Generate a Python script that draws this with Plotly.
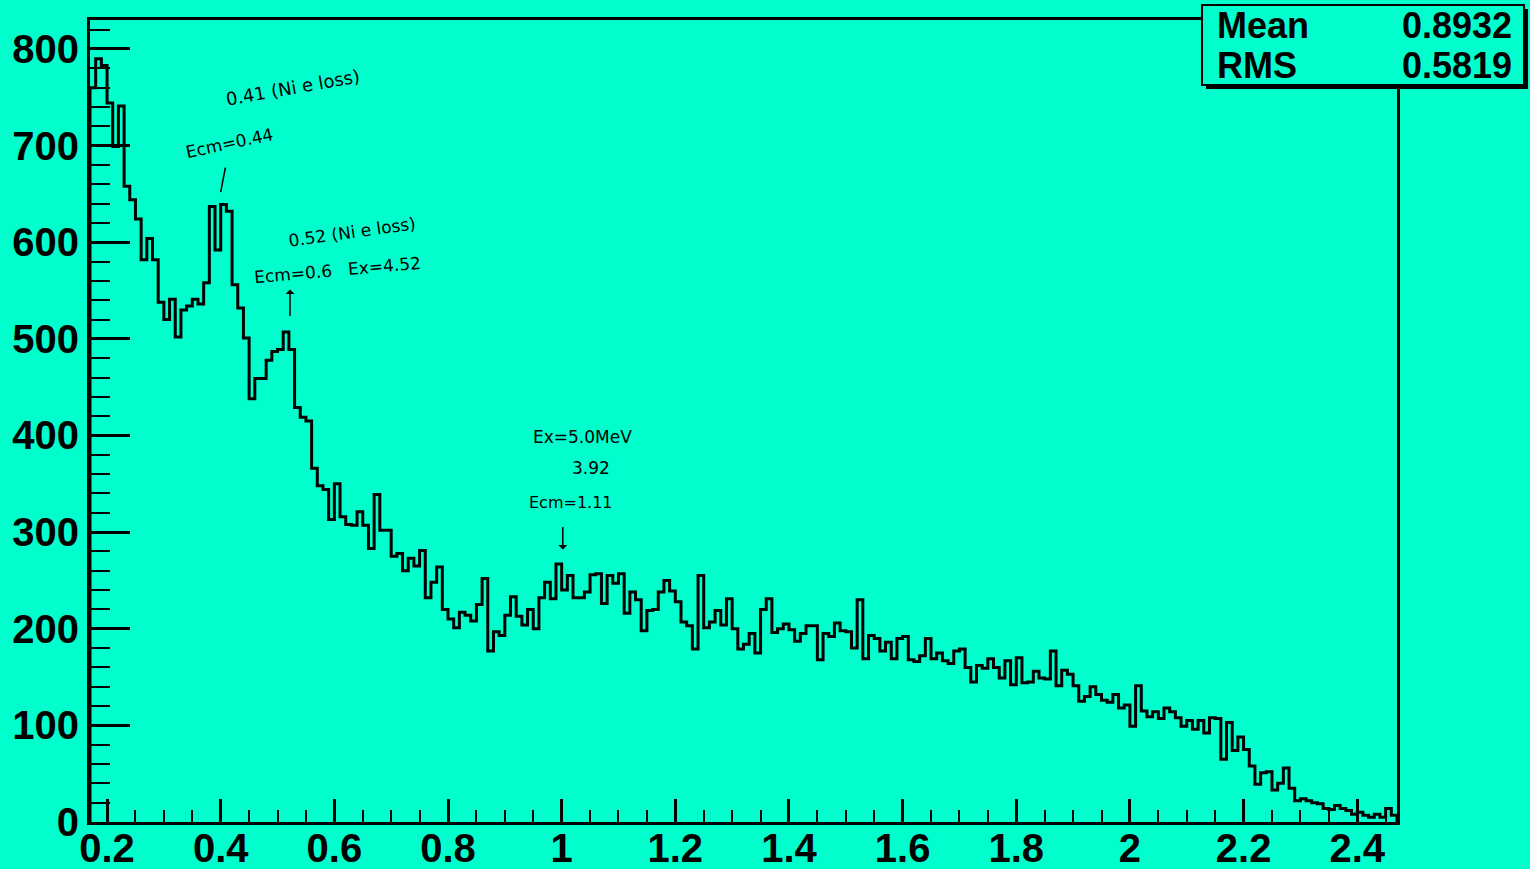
import plotly.graph_objects as go

# ---------------- data ----------------
bin_low = 0.17
bin_width = 0.01
counts = [
    760, 790, 783, 744, 699, 741, 658, 644, 624, 582,
    604, 582, 538, 520, 541, 502, 530, 534, 541, 536,
    558, 637, 592, 639, 632, 556, 532, 501, 438, 459,
    459, 478, 487, 489, 507, 489, 429, 419, 415, 366,
    348, 344, 313, 350, 316, 308, 307, 321, 307, 283,
    339, 302, 302, 275, 278, 260, 273, 265, 281, 232,
    248, 264, 220, 210, 201, 217, 214, 208, 225, 252,
    177, 197, 193, 214, 233, 213, 204, 220, 200, 232,
    248, 231, 267, 240, 255, 232, 232, 238, 256, 257,
    226, 255, 247, 257, 216, 238, 230, 198, 219, 220,
    238, 250, 239, 228, 207, 203, 179, 255, 201, 207,
    219, 204, 231, 200, 179, 184, 195, 175, 220, 231,
    196, 200, 205, 199, 187, 195, 203, 203, 168, 195,
    192, 206, 198, 197, 180, 230, 169, 193, 190, 177,
    186, 169, 190, 192, 168, 166, 172, 190, 169, 175,
    167, 164, 177, 179, 160, 145, 162, 159, 169, 160,
    149, 167, 142, 170, 144, 145, 156, 149, 148, 177,
    141, 157, 153, 141, 125, 130, 140, 132, 126, 124,
    132, 118, 121, 99, 141, 115, 109, 114, 107, 118,
    114, 108, 99, 105, 96, 105, 92, 108, 107, 65,
    103, 74, 88, 75, 58, 39, 51, 52, 33, 40,
    56, 35, 22, 24, 22, 20, 19, 14, 13, 17,
    14, 12, 8, 10, 7, 5, 8, 5, 14, 7,
]
stat_names = ["Mean", "RMS"]
stat_values = ["0.8932", "0.5819"]

x_ticks_major = 0.2
y_ticks_major = 100

# ---------------- build step outline ----------------
n = len(counts)
edges = [round(bin_low + bin_width * i, 4) for i in range(n + 1)]
xs = [edges[0]] + edges + [edges[-1]]
ys = [0] + counts + [counts[-1]] + [0]

BG = "#00FFCC"
fig = go.Figure()
fig.add_trace(go.Scatter(
    x=xs, y=ys, mode="lines", line=dict(shape="hv", color="black", width=3),
    hoverinfo="skip", showlegend=False,
))

W, H = 1530, 869
L, R, T, B = 90, 133, 20, 47
pw, ph = W - L - R, H - T - B


def xp(px):
    return (px - L) / pw


def yp(py):
    return (H - B - py) / ph


tickfont = dict(family="Liberation Sans", size=40, color="black", weight="bold")
fig.update_layout(
    width=W, height=H, autosize=False,
    margin=dict(l=L, r=R, t=T, b=B, pad=0),
    paper_bgcolor=BG, plot_bgcolor=BG,
    showlegend=False,
    xaxis=dict(
        range=[edges[0], edges[-1]], showgrid=False, zeroline=False,
        showline=True, linecolor="black", linewidth=3, mirror=True,
        ticks="inside", ticklen=23, tickwidth=2.5, tickcolor="black",
        tick0=0, dtick=x_ticks_major, tickfont=tickfont,
        automargin=False, ticklabelstandoff=-11,
        minor=dict(ticks="inside", ticklen=12, tickwidth=2, tickcolor="black",
                   tick0=0, dtick=0.05, showgrid=False),
    ),
    yaxis=dict(
        range=[0, 830], showgrid=False, zeroline=False,
        showline=True, linecolor="black", linewidth=3, mirror=True,
        ticks="inside", ticklen=40, tickwidth=2.5, tickcolor="black",
        tick0=0, dtick=y_ticks_major, tickfont=tickfont,
        automargin=False,
        minor=dict(ticks="inside", ticklen=20, tickwidth=2, tickcolor="black",
                   tick0=0, dtick=20, showgrid=False),
    ),
)

# ---------------- stats box ----------------
fig.add_shape(type="rect", xref="paper", yref="paper",
              x0=xp(1206), x1=xp(1528), y0=yp(89), y1=yp(9),
              fillcolor="black", line=dict(width=0), layer="above")
fig.add_shape(type="rect", xref="paper", yref="paper",
              x0=xp(1202), x1=xp(1524), y0=yp(85), y1=yp(5),
              fillcolor=BG, line=dict(color="black", width=2), layer="above")
statfont = dict(family="Liberation Sans", size=36, color="black", weight="bold")
for i, (nm, val) in enumerate(zip(stat_names, stat_values)):
    ycen = yp(26 + 40 * i)
    fig.add_annotation(xref="paper", yref="paper", x=xp(1215), y=ycen,
                       text=nm, showarrow=False, xanchor="left", yanchor="middle",
                       font=statfont)
    fig.add_annotation(xref="paper", yref="paper", x=xp(1514), y=ycen,
                       text=val, showarrow=False, xanchor="right", yanchor="middle",
                       font=statfont)

# ---------------- handwritten notes ----------------
notes = [
    ("0.41 (Ni e loss)", 0.527, 760, -10, 18),
    ("Ecm=0.44", 0.416, 703, -12, 17),
    ("0.52 (Ni e loss)", 0.631, 611, -8, 17),
    ("Ecm=0.6   Ex=4.52", 0.606, 571, -5, 17),
    ("Ex=5.0MeV", 1.036, 398, 0, 17),
    ("3.92", 1.052, 366, 0, 17),
    ("Ecm=1.11", 1.016, 331, 0, 16),
]
for txt, x, y, ang, sz in notes:
    fig.add_annotation(x=x, y=y, text=txt, showarrow=False, textangle=ang,
                       font=dict(family="DejaVu Sans", size=sz, color="black"))

arrows = [
    (0.40, 652, 5, -26, 0),
    (0.522, 551, 0, 28, 1),
    (1.002, 282, 0, -24, 1),
]
for x, y, ax, ay, head in arrows:
    fig.add_annotation(x=x, y=y, ax=ax, ay=ay, text="", showarrow=True,
                       arrowhead=head, arrowsize=1, arrowwidth=1.5,
                       arrowcolor="black")

fig.write_html(
    "out.html",
    config={"displayModeBar": False},
    post_script=(
        "document.body.style.margin='0';"
        "document.body.style.overflow='hidden';"
        "document.body.style.background='" + BG + "';"
    ),
)
